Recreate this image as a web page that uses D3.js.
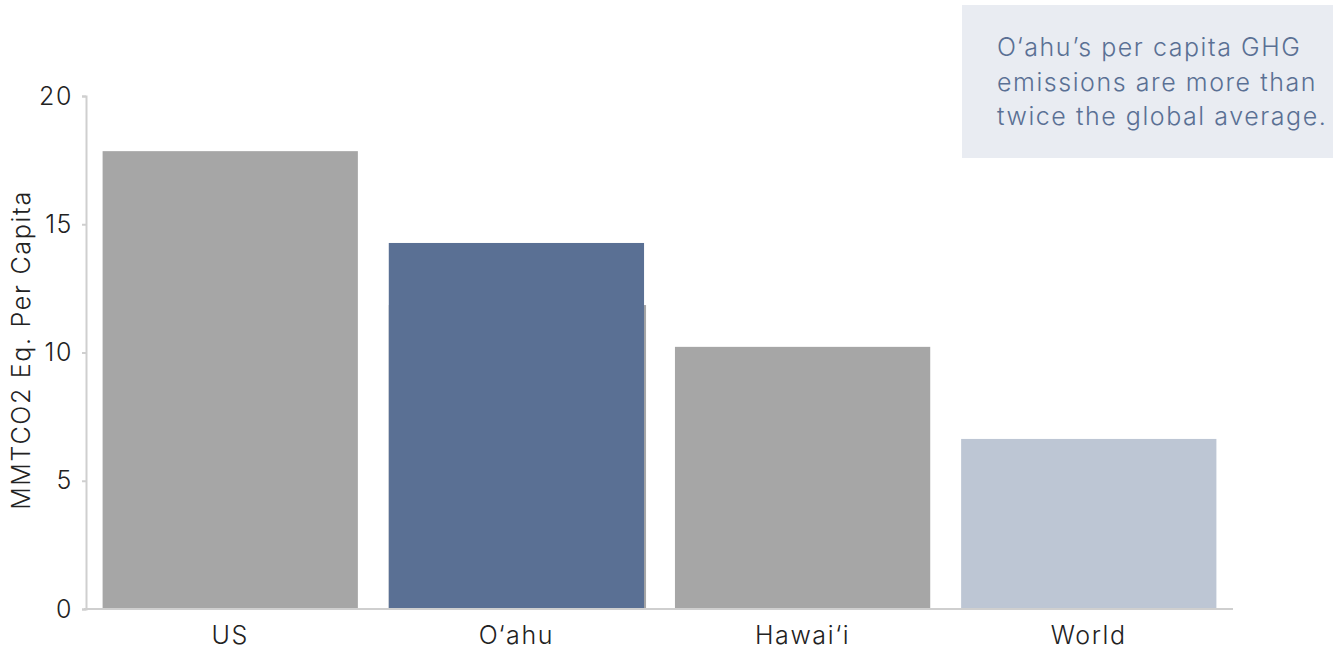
<!DOCTYPE html>
<meta charset="utf-8">
<style>
body { margin: 0; background: #fff; font-family: 'Inter', sans-serif; }
.axis .domain { stroke: #cfcfcf; stroke-width: 2px; }
.axis .tick line { stroke: #cfcfcf; stroke-width: 2px; }
.axis text { font-size: 25px; fill: #222; font-family: 'Inter', sans-serif; font-weight: 300; letter-spacing: 1.6px; }
</style>
<body>
<div id="chart"></div>
<script src="https://d3js.org/d3.v7.min.js"></script>
<script>
var width = 1333,
    height = 650;

// values
var regions = ["US", "O\u2018ahu", "Hawai\u2018i", "World"];
var perCapita = [17.85, 14.27, 10.22, 6.63];
var barColors = ["#a6a6a6", "#5a7094", "#a6a6a6", "#bdc6d4"];
var yTicks = [0, 5, 10, 15, 20];
var note = ["O\u2018ahu\u2019s per capita GHG", "emissions are more than", "twice the global average."];
// a thin grey sliver peeks out at the right of the O'ahu bar
var hiddenOahu = 11.85;

var svg = d3.select("#chart").append("svg")
    .attr("width", width)
    .attr("height", height);

var x = d3.scaleBand()
    .domain(regions)
    .range([86, 1233])
    .paddingInner(0.108)
    .paddingOuter(0.058);

var y = d3.scaleLinear()
    .domain([0, 20])
    .range([609, 96]);

// sliver behind O'ahu
svg.append("rect")
    .attr("x", x(regions[1]))
    .attr("y", y(hiddenOahu))
    .attr("width", x.bandwidth() + 2)
    .attr("height", y(0) - y(hiddenOahu))
    .attr("fill", "#a6a6a6");

svg.append("g")
  .selectAll("rect")
    .data(perCapita)
  .enter().append("rect")
    .attr("x", function(d, i) { return x(regions[i]); })
    .attr("y", function(d) { return y(d); })
    .attr("width", x.bandwidth())
    .attr("height", function(d) { return y(0) - y(d); })
    .attr("fill", function(d, i) { return barColors[i]; });

// y axis
svg.append("g")
    .attr("class", "axis")
    .attr("transform", "translate(86,0)")
    .call(d3.axisLeft(y).tickValues(yTicks).tickSize(4).tickSizeOuter(4).tickPadding(9));

// x axis
var xAxis = svg.append("g")
    .attr("class", "axis")
    .attr("transform", "translate(0,609)")
    .call(d3.axisBottom(x).tickSize(0).tickSizeOuter(0).tickPadding(17));
xAxis.select(".domain").attr("d", "M84,0H1233");

// y label
svg.append("text")
    .attr("transform", "translate(30,350) rotate(-90)")
    .attr("text-anchor", "middle")
    .style("font-size", "25px")
    .style("font-weight", 300)
    .style("letter-spacing", "1.7px")
    .style("fill", "#222")
    .text("MMTCO2 Eq. Per Capita");

// annotation box
svg.append("rect")
    .attr("x", 962)
    .attr("y", 5)
    .attr("width", 371)
    .attr("height", 153)
    .attr("fill", "#e9ecf2");

svg.append("g")
  .selectAll("text")
    .data(note)
  .enter().append("text")
    .attr("x", 997)
    .attr("y", function(d, i) { return 56 + i * 34.5; })
    .style("font-size", "25px")
    .style("font-weight", 300)
    .style("letter-spacing", "1.55px")
    .style("fill", "#5a7094")
    .text(function(d) { return d; });
</script>
</body>
